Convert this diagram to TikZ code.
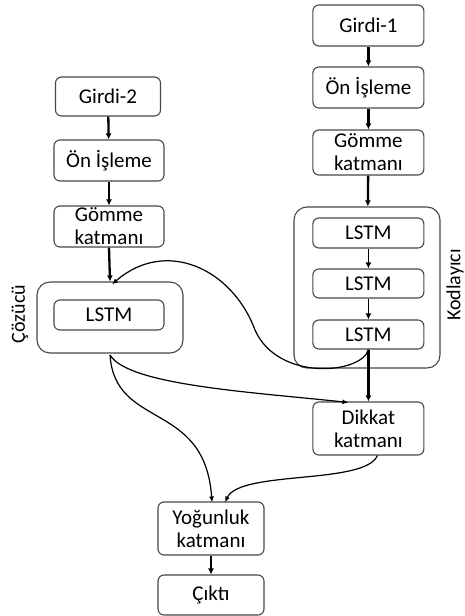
\documentclass[tikz,border=0pt]{standalone}
\usepackage{fontspec}
\setmainfont{Carlito}
\usetikzlibrary{arrows.meta}
\begin{document}
\begin{tikzpicture}[x=1pt,y=-1pt,
  box/.style={draw=black!72, line width=1.1pt, rounded corners=6pt, align=center, inner sep=0pt,
    font=\fontsize{21}{23}\selectfont},
  outer/.style={draw=black!72, line width=1.1pt, rounded corners=13pt, inner sep=0pt},
  lbl/.style={font=\fontsize{20}{22}\selectfont, rotate=90},
  thk/.style={-{Latex[length=6pt,width=6pt]}, line width=2.3pt},
  crv/.style={-{Latex[length=6pt,width=5pt]}, line width=1.2pt}]
\useasboundingbox (0,0) rectangle (465,616);
% right column
\node[box, minimum width=111pt, minimum height=41pt] (g1) at (368.4,25.5) {Girdi-1};
\node[box, minimum width=111pt, minimum height=41pt] (p1) at (368.4,87.5) {Ön İşleme};
\node[box, minimum width=111pt, minimum height=45pt] (e1) at (368.4,152.5) {Gömme\\katmanı};
\node[outer, minimum width=146pt, minimum height=161pt] (enc) at (367,287.5) {};
\node[box, minimum width=111pt, minimum height=30pt] (l1) at (368.4,233) {LSTM};
\node[box, minimum width=111pt, minimum height=29pt] (l2) at (368.4,283.5) {LSTM};
\node[box, minimum width=111pt, minimum height=29pt] (l3) at (368.4,334.5) {LSTM};
\node[lbl] (kod) at (455,285) {Kodlayıcı};
\node[box, minimum width=111pt, minimum height=53pt] (att) at (368.4,428.5) {Dikkat\\katmanı};
% left column
\node[box, minimum width=105pt, minimum height=39pt] (g2) at (108,96.5) {Girdi-2};
\node[box, minimum width=110pt, minimum height=41pt] (p2) at (109,160.5) {Ön İşleme};
\node[box, minimum width=110pt, minimum height=41pt] (e2) at (109,226.5) {Gömme\\katmanı};
\node[outer, minimum width=146pt, minimum height=71pt] (dec) at (110,317.5) {};
\node[box, minimum width=110pt, minimum height=30pt] (l0) at (109,315) {LSTM};
\node[lbl] (coz) at (20,314) {Çözücü};
% bottom
\node[box, minimum width=106pt, minimum height=53pt] (dense) at (211,528.5) {Yoğunluk\\katmanı};
\node[box, minimum width=106pt, minimum height=40pt] (out) at (211,595) {Çıktı};
% straight arrows
\draw[thk] (g1) -- (p1);
\draw[thk] (p1) -- (e1);
\draw[thk] (e1) -- (enc);
\draw[thk, line width=1.6pt] (l1) -- (l2);
\draw[thk, line width=1.6pt] (l2) -- (l3);
\draw[thk] (l3.south) -- (att.north);
\draw[thk] (g2) -- (p2);
\draw[thk] (p2) -- (e2);
\draw[thk] (e2.south) -- (dec.north);
\draw[thk] (dense) -- (out);
% curves
\coordinate (l0b) at (110,355);
\draw[crv] (l3.south) .. controls (362,374) and (278,382) .. (255,330)
  .. controls (232,268) and (165,238) .. ([xshift=2pt,yshift=-3pt]dec.north);
\draw[crv] (l0b) .. controls (128,385) and (250,392) .. ([xshift=-20pt,yshift=-1pt]att.north);
\draw[crv] (l0b) .. controls (115,430) and (205,400) .. ([xshift=1pt,yshift=-1pt]dense.north);
\draw[crv] ([xshift=9pt]att.south) .. controls (365,485) and (240,470) .. ([xshift=14pt,yshift=-1pt]dense.north);
\end{tikzpicture}
\end{document}
